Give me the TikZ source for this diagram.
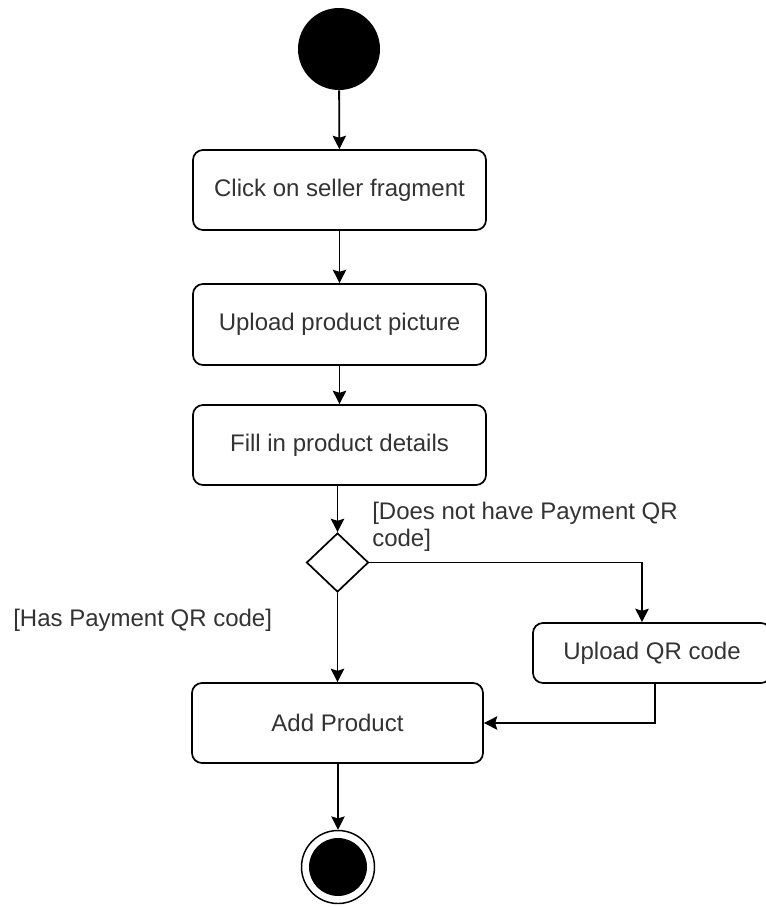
\documentclass[tikz,border=0pt]{standalone}
\usepackage{fontspec}
\setmainfont{Liberation Sans}
\usetikzlibrary{shapes.geometric,arrows.meta,calc}
\definecolor{txt}{HTML}{333333}
\begin{document}
\begin{tikzpicture}[x=0.75pt,y=-0.75pt,
  font=\fontsize{18pt}{20.25pt}\selectfont,
  actbox/.style={draw, rounded corners=7.5pt, line width=1.3pt, text=txt,
    minimum width=219.75pt, minimum height=60pt, inner sep=0pt},
  arr/.style={draw, line width=1.4pt, -{Stealth[length=10pt,width=10pt,inset=1.5pt]}},
  guard/.style={text=txt, inner sep=0pt}]
\path[use as bounding box, clip] (0,0) rectangle (766,907);
\fill[white] (0,0) rectangle (766,907);

\node[circle, fill=black, minimum size=61.5pt, inner sep=0pt] (start) at (339,49) {};
\node[actbox] (b1) at (339.5,190) {Click on seller fragment};
\node[actbox, minimum height=60.75pt] (b2) at (339.5,324.5) {Upload product picture};
\node[actbox] (b3) at (339.5,445) {Fill in product details};
\node[diamond, draw, line width=1.3pt, minimum width=46.5pt, minimum height=44.25pt, inner sep=0pt, aspect=1] (dec) at (337.5,562.5) {};
\node[actbox, minimum width=218.25pt] (add) at (337.5,723) {Add Product};
\node[actbox, minimum width=178.5pt, minimum height=45pt] (upl) at (652,653) {Upload QR code};
\node[circle, draw, line width=1.1pt, minimum size=54.75pt, inner sep=0pt] (end) at (338,867) {};
\fill (end.center) circle (21.75pt);

\node[guard, anchor=west] (lhas) at (13,620) {[Has Payment QR code]};
\node[guard, anchor=west, align=left] (lnot) at (372,526.5) {[Does not have Payment QR\\code]};

\draw[arr] (start) -- (b1);
\draw[arr] (b1) -- (b2);
\draw[arr] (b2) -- (b3);
\draw[arr] (b3.south -| dec.north) -- (dec.north);
\draw[arr] (dec.south) -- (add.north -| dec.south);
\draw[arr] (dec.east) -| ([xshift=-7.5pt]upl.north);
\draw[arr] ([xshift=2.25pt]upl.south) |- (add.east);
\draw[arr] (add.south -| end.north) -- (end.north);
\end{tikzpicture}
\end{document}
